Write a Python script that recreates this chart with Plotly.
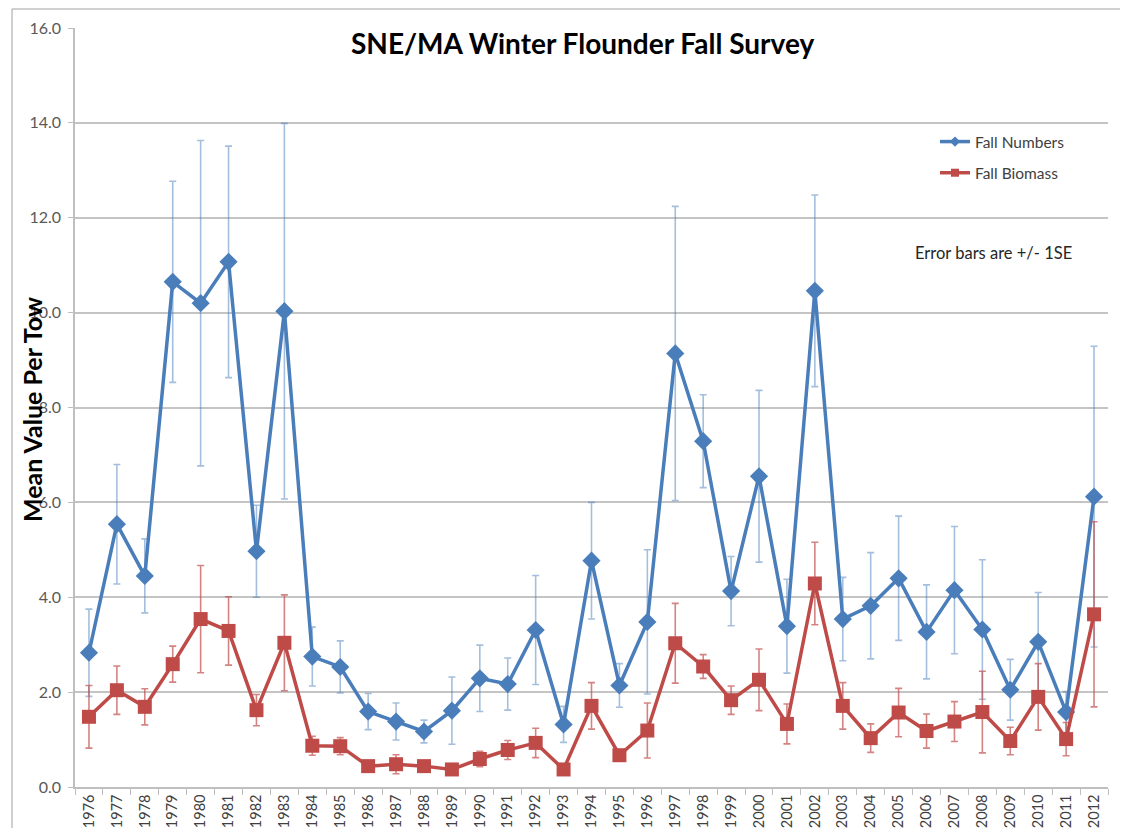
import plotly.graph_objects as go

years = [str(y) for y in range(1976, 2013)]

fall_numbers = [2.83, 5.54, 4.45, 10.65, 10.20, 11.07, 4.97, 10.03, 2.75, 2.53,
                1.59, 1.38, 1.17, 1.61, 2.29, 2.17, 3.31, 1.32, 4.77, 2.14,
                3.48, 9.14, 7.29, 4.13, 6.55, 3.39, 10.46, 3.54, 3.82, 4.40,
                3.27, 4.15, 3.32, 2.05, 3.06, 1.58, 6.12]
numbers_se = [0.92, 1.26, 0.78, 2.12, 3.43, 2.44, 0.97, 3.96, 0.62, 0.55,
              0.38, 0.39, 0.24, 0.71, 0.70, 0.55, 1.15, 0.38, 1.23, 0.46,
              1.52, 3.10, 0.98, 0.73, 1.81, 0.99, 2.02, 0.88, 1.12, 1.31,
              0.99, 1.34, 1.47, 0.64, 1.04, 0.43, 3.17]

fall_biomass = [1.48, 2.04, 1.69, 2.59, 3.54, 3.29, 1.62, 3.04, 0.87, 0.86,
                0.44, 0.48, 0.44, 0.37, 0.59, 0.78, 0.93, 0.37, 1.71, 0.67,
                1.19, 3.03, 2.54, 1.83, 2.26, 1.33, 4.29, 1.71, 1.03, 1.57,
                1.18, 1.38, 1.58, 0.97, 1.90, 1.01, 3.64]
biomass_se = [0.66, 0.51, 0.38, 0.38, 1.13, 0.72, 0.33, 1.01, 0.20, 0.18,
              0.08, 0.20, 0.08, 0.07, 0.16, 0.20, 0.31, 0.05, 0.49, 0.06,
              0.58, 0.84, 0.25, 0.30, 0.65, 0.42, 0.87, 0.49, 0.30, 0.51,
              0.36, 0.42, 0.86, 0.29, 0.70, 0.35, 1.95]

series_names = ["Fall Numbers", "Fall Biomass"]

BLUE = "#4A7EBB"
RED = "#BE4B48"
FONT = "Lato"

# page body has an 8px margin; compensate so the plot area lands at
# x 75..1108, y 28..787 in the window
OFF = 8
W, H = 1128 - 2 * OFF, 836 - 2 * OFF
PL, PR, PT, PB = 75, 1108, 28, 787
PW, PH = PR - PL, PB - PT


def px(xp):
    return (xp - PL) / PW


def py(yp):
    return (PB - yp) / PH


fig = go.Figure()
fig.add_trace(go.Scatter(
    x=years, y=fall_numbers, name=series_names[0], mode="lines+markers",
    showlegend=False,
    line=dict(color=BLUE, width=3.5),
    marker=dict(symbol="diamond", size=14, color=BLUE),
    error_y=dict(type="data", array=numbers_se, visible=True,
                 color="rgba(74,126,187,0.5)", thickness=1.6, width=3.5),
))
fig.add_trace(go.Scatter(
    x=years, y=fall_biomass, name=series_names[1], mode="lines+markers",
    showlegend=False,
    line=dict(color=RED, width=3.5),
    marker=dict(symbol="square", size=14, color=RED),
    error_y=dict(type="data", array=biomass_se, visible=True,
                 color="rgba(192,80,77,0.7)", thickness=1.6, width=3.5),
))
# legend entries (small markers like the original legend)
fig.add_trace(go.Scatter(
    x=[None], y=[None], name=series_names[0], mode="lines+markers",
    legendgroup="a", line=dict(color=BLUE, width=3.5),
    marker=dict(symbol="diamond", size=8, color=BLUE)))
fig.add_trace(go.Scatter(
    x=[None], y=[None], name=series_names[1], mode="lines+markers",
    legendgroup="b", line=dict(color=RED, width=3.5),
    marker=dict(symbol="square", size=8, color=RED)))

fig.update_layout(
    width=W, height=H,
    margin=dict(l=PL - OFF, r=W + OFF - PR, t=PT - OFF, b=H + OFF - PB,
                autoexpand=False),
    paper_bgcolor="white", plot_bgcolor="white",
    font=dict(family=FONT, color="#404040"),
    showlegend=True,
    legend=dict(x=px(935), y=py(125), xanchor="left", yanchor="top",
                bgcolor="rgba(0,0,0,0)", font=dict(size=15.5, color="#404040"),
                tracegroupgap=8, traceorder="grouped", itemwidth=30),
    xaxis=dict(type="category", range=[-0.5, 36.5], tickson="boundaries",
               automargin=False,
               ticks="outside", ticklen=6, tickcolor="#BFBFBF",
               tickangle=-90, tickfont=dict(size=14.5, color="#404040"),
               showline=True, linecolor="#BFBFBF", linewidth=1.5,
               showgrid=False),
    yaxis=dict(range=[0, 16], dtick=2, tickformat=".1f",
               automargin=False,
               ticks="outside", ticklen=5, tickcolor="#BFBFBF",
               ticklabelstandoff=4,
               tickfont=dict(size=16, color="#595959"),
               showline=True, linecolor="#BFBFBF", linewidth=1.5,
               showgrid=True, gridcolor="#C4C4C4", gridwidth=1.5,
               zeroline=False),
    annotations=[
        dict(text="<b>SNE/MA Winter Flounder Fall Survey</b>",
             xref="paper", yref="paper", x=px(582), y=py(43),
             xanchor="center", yanchor="middle", showarrow=False,
             font=dict(size=28, color="#000000", family=FONT)),
        dict(text="<b>Mean Value Per Tow</b>", textangle=-90,
             xref="paper", yref="paper", x=px(32), y=py(410),
             xanchor="center", yanchor="middle", showarrow=False,
             font=dict(size=25, color="#000000", family=FONT)),
        dict(text="Error bars are +/- 1SE",
             xref="paper", yref="paper", x=px(993), y=py(253),
             xanchor="center", yanchor="middle", showarrow=False,
             font=dict(size=16.5, color="#262626", family=FONT)),
    ],
    shapes=[
        dict(type="line", xref="paper", yref="paper",
             x0=px(12), x1=px(1127), y0=py(9), y1=py(9),
             line=dict(color="#A0A0A0", width=1)),
        dict(type="line", xref="paper", yref="paper",
             x0=px(12), x1=px(12), y0=py(9), y1=py(836),
             line=dict(color="#A0A0A0", width=1)),
    ],
)

fig.write_html("out.html")
